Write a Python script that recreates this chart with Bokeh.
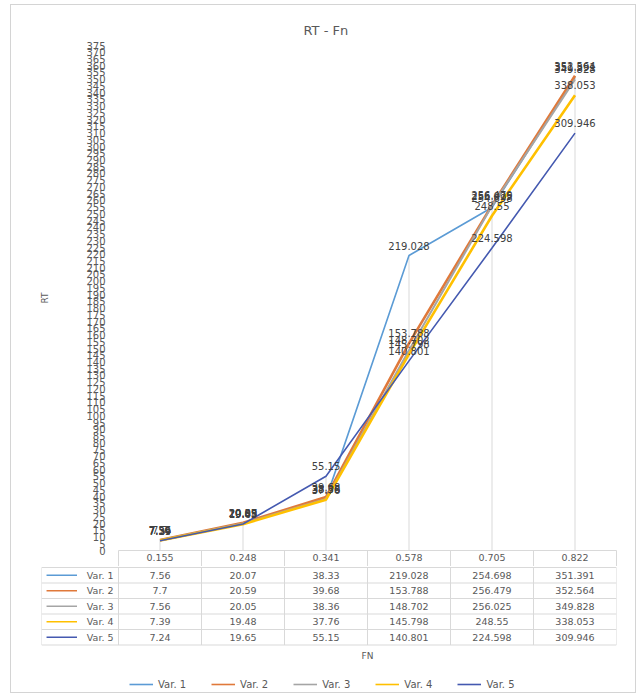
from bokeh.plotting import figure
from bokeh.models import Range1d, FixedTicker, ColumnDataSource, Legend, LegendItem, InlineStyleSheet
from bokeh.layouts import column
from bokeh.embed import file_html
from bokeh.resources import INLINE
from bokeh.core.properties import value

# ---------------- data ----------------
categories = ["0.155", "0.248", "0.341", "0.578", "0.705", "0.822"]
series_names = ["Var. 1", "Var. 2", "Var. 3", "Var. 4", "Var. 5"]
var1 = [7.56, 20.07, 38.33, 219.028, 254.698, 351.391]
var2 = [7.7, 20.59, 39.68, 153.788, 256.479, 352.564]
var3 = [7.56, 20.05, 38.36, 148.702, 256.025, 349.828]
var4 = [7.39, 19.48, 37.76, 145.798, 248.55, 338.053]
var5 = [7.24, 19.65, 55.15, 140.801, 224.598, 309.946]
y_ticks = list(range(0, 380, 5))

series = [var1, var2, var3, var4, var5]
colors = ["#5B9BD5", "#E0793A", "#A5A5A5", "#FFC000", "#4459B0"]
widths = [1.6, 2.6, 2.0, 2.6, 1.6]

FONT = "DejaVu Sans"
TXT = "#595959"
GRID = "#d9d9d9"
W = 624
NC = len(categories)

xs = [i + 0.5 for i in range(NC)]

# ---------------- chart ----------------
pA = figure(width=W, height=561, x_range=Range1d(0, NC), y_range=Range1d(0, 375),
            output_backend="svg", toolbar_location=None,
            min_border_left=107, min_border_right=19, min_border_top=40, min_border_bottom=16)
pA.frame_align = False
pA.outline_line_color = None
pA.xgrid.visible = False
pA.ygrid.visible = False
pA.title.text = "RT - Fn"
pA.title.align = "left"
pA.title.offset = 185
pA.title.standoff = 15
pA.title.text_font = FONT
pA.title.text_font_size = "13px"
pA.title.text_font_style = "normal"
pA.title.text_color = TXT

ya = pA.yaxis[0]
ya.ticker = FixedTicker(ticks=y_ticks)
ya.axis_line_color = None
ya.major_tick_line_color = None
ya.minor_tick_line_color = None
ya.major_label_standoff = 7
ya.major_label_text_font = FONT
ya.major_label_text_font_size = "10px"
ya.major_label_text_color = TXT
ya.axis_label = "RT"
ya.axis_label_text_font = FONT
ya.axis_label_text_font_size = "9px"
ya.axis_label_text_font_style = "normal"
ya.axis_label_text_color = TXT
ya.axis_label_standoff = 33

# x axis acts as the header row of the data table
xa = pA.xaxis[0]
xa.ticker = FixedTicker(ticks=xs, minor_ticks=list(range(NC + 1)))
xa.major_label_overrides = {x: c for x, c in zip(xs, categories)}
xa.axis_line_color = GRID
xa.major_tick_line_color = None
xa.minor_tick_line_color = GRID
xa.minor_tick_in = 0
xa.minor_tick_out = 16
xa.major_tick_out = 0
xa.major_tick_in = 0
xa.major_label_standoff = -13
xa.major_label_text_font = FONT
xa.major_label_text_font_size = "9.5px"
xa.major_label_text_color = TXT

# drop lines
maxes = [max(s[i] for s in series) for i in range(NC)]
pA.segment(x0=xs, y0=[0] * NC, x1=xs, y1=maxes, line_color=GRID, line_width=1)

for name, vals, c, w in zip(series_names, series, colors, widths):
    src = ColumnDataSource(dict(x=xs, y=vals))
    pA.line("x", "y", source=src, line_color=c, line_width=w)

for vals in series:
    src = ColumnDataSource(dict(x=xs, y=vals, t=[str(v) for v in vals]))
    pA.text("x", "y", text="t", source=src, text_align="center", text_baseline="bottom",
            y_offset=-6, text_font=value(FONT), text_font_size="10px", text_color="#404040")

# ---------------- data table (rows) ----------------
RH = 15.5
NR = len(series)
HB = 126
label_w = 77 / 83
pB = figure(width=W, height=HB, x_range=Range1d(-label_w, NC), y_range=Range1d(HB - 1, -1),
            output_backend="svg", toolbar_location=None, x_axis_location=None, y_axis_location=None,
            min_border_left=30, min_border_right=19, min_border_top=0, min_border_bottom=0)
pB.frame_align = False
pB.outline_line_color = None
pB.xgrid.visible = False
pB.ygrid.visible = False

hy = [k * RH for k in range(NR + 1)]
pB.segment(x0=[-label_w] * len(hy), y0=hy, x1=[NC] * len(hy), y1=hy, line_color=GRID, line_width=1)
vx = [-label_w] + list(range(NC + 1))
pB.segment(x0=vx, y0=[0] * len(vx), x1=vx, y1=[NR * RH] * len(vx), line_color=GRID, line_width=1)

key_renderers = []
for k, (name, vals, c, w) in enumerate(zip(series_names, series, colors, widths)):
    yc = k * RH + RH / 2
    pB.text(x=xs, y=[yc] * NC, text=[str(v) for v in vals], text_align="center",
            text_baseline="middle", text_font=value(FONT), text_font_size="9.5px", text_color=TXT)
    pB.text(x=[-0.06], y=[yc], text=[name], text_align="right", text_baseline="middle",
            text_font=value(FONT), text_font_size="9.5px", text_color=TXT)
    r = pB.segment(x0=[-0.867], y0=[yc], x1=[-0.5], y1=[yc], line_color=c, line_width=1.6)
    key_renderers.append(r)

# category axis title
pB.text(x=[NC / 2], y=[88], text=["FN"], text_align="center", text_baseline="middle",
        text_font=value(FONT), text_font_size="9px", text_color=TXT)

legend = Legend(items=[LegendItem(label=n, renderers=[r]) for n, r in zip(series_names, key_renderers)],
                orientation="horizontal", location=(88, 2))
legend.label_text_font = FONT
legend.label_text_font_size = "10px"
legend.label_text_color = TXT
legend.glyph_width = 24
legend.glyph_height = 12
legend.label_height = 12
legend.label_standoff = 5
legend.spacing = 25
legend.padding = 0
legend.margin = 0
legend.border_line_color = None
legend.background_fill_alpha = 0
pB.add_layout(legend)

frame_css = InlineStyleSheet(css=":host { border: 1px solid #d4d4d4; }")
layout = column(pA, pB, styles={"border": "1px solid #d4d4d4"}, stylesheets=[frame_css],
                margin=(4, 0, 0, 10))

open("out.html", "w").write(file_html(layout, INLINE))
